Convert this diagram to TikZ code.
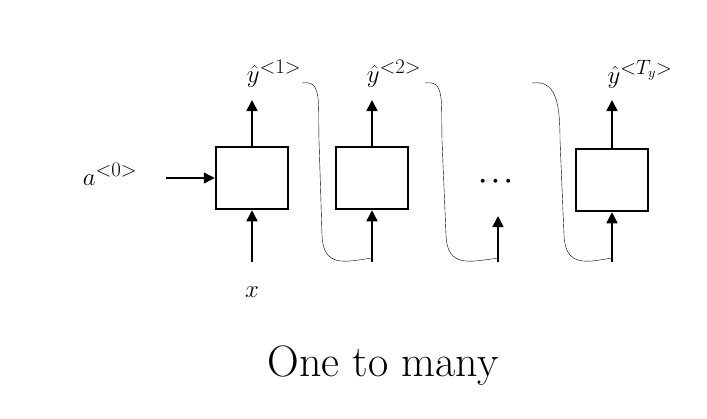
\documentclass[tikz,border=0pt]{standalone}
\usepackage{amsmath}
\usetikzlibrary{arrows.meta,positioning}
\begin{document}
\begin{tikzpicture}[
    x=1pt,y=-1pt,
    font=\fontsize{30}{34}\selectfont,
    Cell/.style={% Style for the RNN cell
      draw,
      line width=2.5pt,
      minimum width=72pt,
      minimum height=62pt,
      inner sep=0pt
    },
    MyArrow/.style={% Style for the data arrows
      -{Triangle[length=11pt,width=11pt]},
      line width=1.5pt
    }
  ]
  \useasboundingbox (0,0) rectangle (707,418);

  % Cells
  \node[Cell] (C1) at (252,178) {};
  \node[Cell] (C2) at (372,178) {};
  \node (Dots) at (498,182) {$\boldsymbol{\cdots}$};
  \node[Cell] (C3) at (612,180) {};

  % Inputs and outputs
  \node (A0) at (110,174) {$a^{<0>}$};
  \node (X) at (252,292) {$x$};
  \node (Y1) at (274,74) {$\hat{y}^{<1>}$};
  \node (Y2) at (394,74) {$\hat{y}^{<2>}$};
  \node (Y3) at (640,74) {$\hat{y}^{<T_y>}$};

  \coordinate (A0out) at (166,178);
  \coordinate (In1) at (252,262);
  \coordinate (In2) at (372,262);
  \coordinate (InD) at (498,262);
  \coordinate (In3) at (612,262);
  \coordinate (Tip1) at (252,100);
  \coordinate (Tip2) at (372,100);
  \coordinate (Tip3) at (612,100);

  \draw[MyArrow] (A0out) -- (C1.west);
  \draw[MyArrow] (In1) -- (C1.south);
  \draw[MyArrow] (In2) -- (C2.south);
  \draw[MyArrow] (InD) -- (498,216);
  \draw[MyArrow] (In3) -- (C3.south);
  \draw[MyArrow] (C1.north) -- (Tip1);
  \draw[MyArrow] (C2.north) -- (Tip2);
  \draw[MyArrow] (C3.north) -- (Tip3);

  % Outputs fed back as next inputs
  \draw[thin] (302,83) .. controls (322,80) and (318,100) .. (319,140)
    -- (322,235) .. controls (323,268) and (345,262) .. (372,258) -- (In2);
  \draw[thin] (425,83) .. controls (445,80) and (441,100) .. (442,140)
    -- (446,235) .. controls (447,268) and (470,262) .. (498,258) -- (InD);
  \draw[thin] (532,83) .. controls (555,80) and (560,100) .. (560,140)
    -- (564,235) .. controls (565,268) and (588,262) .. (612,258) -- (In3);

  % Title
  \node[font=\fontsize{44}{48}\selectfont] (Title) at (383,366) {One to many};
\end{tikzpicture}
\end{document}
